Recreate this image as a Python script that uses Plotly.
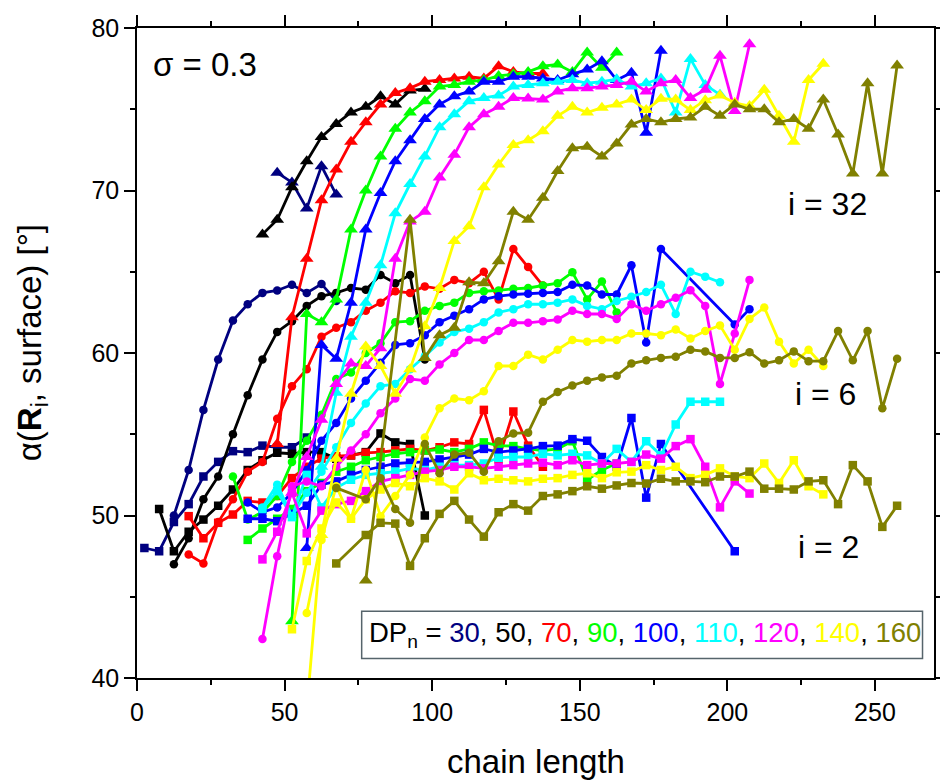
import plotly.graph_objects as go

# ---------------- data (chain length, angle in degrees) ----------------
# DP_n = 30
dp30_i2 = [(2.5, 48.0), (7.5, 47.8), (12.5, 49.6), (17.5, 50.7), (22.5, 52.4), (27.5, 53.3), (32.5, 53.96),
           (37.5, 53.9), (42.5, 54.3), (47.5, 54.2), (52.5, 54.2), (57.5, 54.8), (62.5, 53.8), (67.5, 53.5)]
dp30_i6 = [(12.5, 50.0), (17.5, 52.8), (22.5, 56.5), (27.5, 59.6), (32.5, 62.0), (37.5, 63.0), (42.5, 63.7),
           (47.5, 63.85), (52.5, 64.2), (57.5, 63.7), (62.5, 64.25), (67.5, 63.2)]
dp30_i32 = [(47.5, 71.1), (52.5, 70.5), (57.5, 68.9), (62.5, 71.5), (67.5, 69.75)]

# DP_n = 50
dp50_i2 = [(7.5, 50.4), (12.5, 47.8), (17.5, 49.0), (22.5, 49.75), (27.5, 50.6), (32.5, 51.6), (37.5, 52.8),
           (42.5, 53.4), (47.5, 53.86), (52.5, 53.8), (57.5, 53.9), (62.5, 53.9), (67.5, 53.5), (72.5, 53.7),
           (77.5, 53.9), (82.5, 55.05), (87.5, 54.5), (92.5, 54.4), (97.5, 50.0)]
dp50_i6 = [(12.5, 47.0), (17.5, 48.6), (22.5, 51.0), (27.5, 52.4), (32.5, 55.0), (37.5, 57.4), (42.5, 59.6),
           (47.5, 61.3), (52.5, 61.96), (57.5, 62.9), (62.5, 63.5), (67.5, 63.7), (72.5, 64.0), (77.5, 63.9),
           (82.5, 64.8), (87.5, 64.3), (92.5, 64.8), (97.5, 59.6)]
dp50_i32 = [(42.5, 67.3), (47.5, 68.2), (52.5, 70.2), (57.5, 71.8), (62.5, 73.3), (67.5, 74.1), (72.5, 74.8),
            (77.5, 75.15), (82.5, 75.8), (87.5, 75.3), (92.5, 76.15), (97.5, 76.26)]

# DP_n = 70
dp70_i2 = [(17.5, 49.96), (22.5, 48.6), (27.5, 49.55), (32.5, 50.06), (37.5, 50.9), (42.5, 50.8), (47.5, 51.2),
           (52.5, 52.3), (57.5, 53.0), (62.5, 53.5), (67.5, 53.65), (72.5, 53.7), (77.5, 53.86), (82.5, 53.9),
           (87.5, 54.0), (92.5, 54.1), (97.5, 54.0), (102.5, 54.2), (107.5, 54.5), (112.5, 54.4), (117.5, 56.5),
           (122.5, 53.45), (127.5, 56.4), (132.5, 54.3), (137.5, 53.0)]
dp70_i6 = [(17.5, 47.6), (22.5, 47.05), (27.5, 49.6), (32.5, 51.0), (37.5, 52.7), (42.5, 53.3), (47.5, 55.95),
           (52.5, 57.96), (57.5, 59.0), (62.5, 61.0), (67.5, 61.55), (72.5, 61.9), (77.5, 62.6), (82.5, 63.1),
           (87.5, 63.8), (92.5, 63.7), (97.5, 64.1), (102.5, 63.95), (107.5, 64.5), (112.5, 64.3), (117.5, 65.0),
           (122.5, 63.3), (127.5, 66.4), (132.5, 65.3), (137.5, 64.15)]
dp70_i32 = [(47.5, 54.4), (52.5, 62.2), (57.5, 65.8), (62.5, 69.4), (67.5, 71.3), (72.5, 73.0), (77.5, 74.2),
            (82.5, 75.3), (87.5, 76.0), (92.5, 76.3), (97.5, 76.7), (102.5, 76.8), (107.5, 76.9), (112.5, 77.0),
            (117.5, 76.9), (122.5, 77.65), (127.5, 77.3), (132.5, 77.2), (137.5, 77.2)]

# DP_n = 90
dp90_i2 = [(37.5, 48.5), (42.5, 49.2), (47.5, 49.8), (52.5, 50.4), (57.5, 51.5), (62.5, 52.0), (67.5, 52.7),
           (72.5, 53.0), (77.5, 53.4), (82.5, 53.6), (87.5, 53.8), (92.5, 53.9), (97.5, 54.0), (102.5, 54.06),
           (107.5, 53.9), (112.5, 54.1), (117.5, 54.5), (122.5, 54.3), (127.5, 54.27), (132.5, 54.1), (137.5, 54.0),
           (142.5, 54.1), (147.5, 54.57), (152.5, 52.2), (157.5, 52.8), (162.5, 53.2)]
dp90_i6 = [(32.5, 52.4), (37.5, 49.75), (42.5, 50.2), (47.5, 51.2), (52.5, 53.3), (57.5, 54.6), (62.5, 56.2),
           (67.5, 58.4), (72.5, 58.8), (77.5, 60.0), (82.5, 60.6), (87.5, 61.9), (92.5, 61.96), (97.5, 62.6),
           (102.5, 62.9), (107.5, 63.1), (112.5, 63.7), (117.5, 63.8), (122.5, 63.85), (127.5, 63.95), (132.5, 64.0),
           (137.5, 64.15), (142.5, 64.3), (147.5, 64.97), (152.5, 63.3), (157.5, 64.4), (162.5, 62.5)]
dp90_i32 = [(52.5, 43.5), (57.5, 62.4), (62.5, 61.9), (67.5, 63.3), (72.5, 67.6), (77.5, 70.0), (82.5, 72.1),
            (87.5, 73.8), (92.5, 74.8), (97.5, 75.5), (102.5, 76.4), (107.5, 76.5), (112.5, 76.7), (117.5, 76.8),
            (122.5, 77.05), (127.5, 77.15), (132.5, 77.3), (137.5, 77.65), (142.5, 77.75), (147.5, 77.3),
            (152.5, 78.5), (157.5, 77.55), (162.5, 78.5)]

# DP_n = 100
dp100_i2 = [(37.5, 49.8), (42.5, 49.8), (47.5, 49.65), (52.5, 50.1), (57.5, 50.6), (62.5, 51.9), (67.5, 52.1),
            (72.5, 52.5), (77.5, 52.8), (82.5, 53.0), (87.5, 53.2), (92.5, 53.25), (97.5, 53.3), (102.5, 53.45),
            (107.5, 53.6), (112.5, 53.75), (117.5, 54.1), (122.5, 53.9), (127.5, 54.0), (132.5, 54.1),
            (137.5, 54.27), (142.5, 54.3), (147.5, 54.7), (152.5, 54.6), (157.5, 53.6), (162.5, 53.0),
            (167.5, 56.0), (172.5, 51.1), (177.5, 54.4), (202.5, 47.8)]
dp100_i6 = [(37.5, 50.8), (42.5, 50.2), (47.5, 50.5), (52.5, 51.4), (57.5, 52.8), (62.5, 54.6), (67.5, 55.7),
            (72.5, 57.2), (77.5, 58.3), (82.5, 59.4), (87.5, 60.5), (92.5, 60.6), (97.5, 61.1), (102.5, 61.9),
            (107.5, 62.3), (112.5, 62.7), (117.5, 63.3), (122.5, 63.5), (127.5, 63.6), (132.5, 63.65),
            (137.5, 63.7), (142.5, 63.75), (147.5, 64.2), (152.5, 64.15), (157.5, 63.6), (162.5, 63.6),
            (167.5, 65.4), (172.5, 60.65), (177.5, 66.4), (202.5, 61.75), (207.5, 62.7)]
dp100_i32 = [(57.5, 48.0), (62.5, 60.5), (67.5, 59.65), (72.5, 63.1), (77.5, 67.6), (82.5, 69.85), (87.5, 71.8),
             (92.5, 73.1), (97.5, 74.4), (102.5, 75.3), (107.5, 75.8), (112.5, 76.1), (117.5, 76.7), (122.5, 76.7),
             (127.5, 77.0), (132.5, 77.0), (137.5, 76.9), (142.5, 76.8), (147.5, 77.15), (152.5, 77.45),
             (157.5, 77.96), (162.5, 76.8), (167.5, 77.25), (172.5, 73.55), (177.5, 78.6)]

# DP_n = 110
dp110_i2 = [(42.5, 50.4), (47.5, 51.5), (52.5, 49.9), (57.5, 52.5), (62.5, 50.5), (67.5, 51.7), (72.5, 52.2),
            (77.5, 52.5), (82.5, 52.6), (87.5, 52.7), (92.5, 52.9), (97.5, 52.8), (102.5, 53.0), (107.5, 53.1),
            (112.5, 53.1), (117.5, 53.2), (122.5, 53.55), (127.5, 53.6), (132.5, 53.6), (137.5, 53.8),
            (142.5, 53.7), (147.5, 53.8), (152.5, 53.7), (157.5, 53.2), (162.5, 54.1), (167.5, 53.3),
            (172.5, 54.57), (177.5, 53.7), (182.5, 55.6), (187.5, 57.0), (192.5, 57.0), (197.5, 57.0)]
dp110_i6 = [(42.5, 50.5), (47.5, 51.9), (52.5, 49.96), (57.5, 51.4), (62.5, 52.7), (67.5, 54.2), (72.5, 55.7),
            (77.5, 56.9), (82.5, 57.96), (87.5, 58.1), (92.5, 59.0), (97.5, 59.8), (102.5, 60.65), (107.5, 61.3),
            (112.5, 61.5), (117.5, 61.9), (122.5, 62.5), (127.5, 62.7), (132.5, 63.0), (137.5, 63.0),
            (142.5, 63.1), (147.5, 63.3), (152.5, 62.9), (157.5, 62.7), (162.5, 63.2), (167.5, 63.46),
            (172.5, 63.75), (177.5, 64.2), (182.5, 62.4), (187.5, 65.0), (192.5, 64.7), (197.5, 64.35)]
dp110_i32 = [(62.5, 53.0), (67.5, 57.55), (72.5, 61.0), (77.5, 63.1), (82.5, 65.4), (87.5, 68.6), (92.5, 70.4),
             (97.5, 72.1), (102.5, 73.9), (107.5, 74.7), (112.5, 75.5), (117.5, 75.7), (122.5, 75.85),
             (127.5, 76.4), (132.5, 76.5), (137.5, 76.6), (142.5, 76.7), (147.5, 76.8), (152.5, 76.6),
             (157.5, 76.7), (162.5, 76.85), (167.5, 76.4), (172.5, 76.6), (177.5, 76.9), (182.5, 74.8),
             (187.5, 78.1), (192.5, 76.5), (197.5, 75.9)]

# DP_n = 120
dp120_i2 = [(42.5, 47.3), (47.5, 49.0), (52.5, 51.4), (57.5, 48.9), (62.5, 50.3), (67.5, 50.7), (72.5, 50.9),
            (77.5, 51.5), (82.5, 52.1), (87.5, 52.3), (92.5, 52.5), (97.5, 52.7), (102.5, 52.8), (107.5, 53.0),
            (112.5, 53.0), (117.5, 52.9), (122.5, 53.0), (127.5, 53.1), (132.5, 53.2), (137.5, 53.25),
            (142.5, 53.1), (147.5, 53.4), (152.5, 53.1), (157.5, 53.2), (162.5, 53.2), (167.5, 53.3),
            (172.5, 53.75), (177.5, 53.5), (182.5, 54.27), (187.5, 54.7), (192.5, 53.0), (197.5, 50.5),
            (202.5, 52.1), (207.5, 51.35)]
dp120_i6 = [(42.5, 42.4), (47.5, 47.5), (52.5, 51.8), (57.5, 52.1), (62.5, 51.8), (67.5, 53.0), (72.5, 54.0),
            (77.5, 55.0), (82.5, 56.3), (87.5, 57.2), (92.5, 58.4), (97.5, 58.3), (102.5, 59.3), (107.5, 60.0),
            (112.5, 60.8), (117.5, 60.8), (122.5, 61.35), (127.5, 61.86), (132.5, 61.86), (137.5, 61.96),
            (142.5, 62.06), (147.5, 62.6), (152.5, 62.4), (157.5, 62.4), (162.5, 62.1), (167.5, 63.0),
            (172.5, 62.6), (177.5, 63.0), (182.5, 63.4), (187.5, 63.86), (192.5, 62.9), (197.5, 58.1),
            (202.5, 61.2), (207.5, 64.5)]
dp120_i32 = [(52.5, 51.4), (57.5, 53.6), (62.5, 55.9), (67.5, 58.1), (72.5, 59.35), (77.5, 59.2), (82.5, 60.3),
             (87.5, 65.8), (92.5, 68.1), (97.5, 68.7), (102.5, 70.8), (107.5, 72.2), (112.5, 73.9), (117.5, 74.7),
             (122.5, 75.15), (127.5, 75.7), (132.5, 75.66), (137.5, 75.6), (142.5, 76.1), (147.5, 76.3),
             (152.5, 76.3), (157.5, 76.4), (162.5, 76.5), (167.5, 76.7), (172.5, 76.1), (177.5, 76.6),
             (182.5, 76.8), (187.5, 75.7), (192.5, 76.2), (197.5, 78.3), (202.5, 74.9), (207.5, 79.0)]

# DP_n = 140
dp140_i2 = [(52.5, 43.0), (57.5, 47.2), (62.5, 49.2), (67.5, 50.8), (72.5, 49.8), (77.5, 51.0), (82.5, 51.6),
            (87.5, 52.0), (92.5, 51.8), (97.5, 52.3), (102.5, 52.1), (107.5, 51.6), (112.5, 52.6), (117.5, 52.17),
            (122.5, 52.26), (127.5, 52.17), (132.5, 52.1), (137.5, 52.26), (142.5, 52.3), (147.5, 52.5),
            (152.5, 52.6), (157.5, 52.3), (162.5, 52.66), (167.5, 52.7), (172.5, 53.1), (177.5, 52.8),
            (182.5, 53.0), (187.5, 52.3), (192.5, 52.5), (197.5, 52.9), (202.5, 52.4), (207.5, 52.3),
            (212.5, 53.2), (217.5, 52.0), (222.5, 53.4), (227.5, 51.8), (232.5, 51.3)]
dp140_i6 = [(57.5, 44.0), (62.5, 48.5), (67.5, 51.8), (72.5, 49.8), (77.5, 52.8), (82.5, 49.96), (87.5, 51.2),
            (92.5, 52.5), (97.5, 54.8), (102.5, 56.6), (107.5, 57.2), (112.5, 57.1), (117.5, 57.65), (122.5, 59.2),
            (127.5, 59.2), (132.5, 59.9), (137.5, 59.6), (142.5, 60.2), (147.5, 60.8), (152.5, 60.7),
            (157.5, 60.8), (162.5, 60.8), (167.5, 61.2), (172.5, 61.2), (177.5, 61.1), (182.5, 61.45),
            (187.5, 60.9), (192.5, 61.35), (197.5, 61.7), (202.5, 60.2), (207.5, 62.1), (212.5, 62.8),
            (217.5, 60.7), (222.5, 59.35), (227.5, 60.2), (232.5, 59.2)]
dp140_i32 = [(57.5, 38.0), (62.5, 48.8), (67.5, 53.5), (72.5, 57.5), (77.5, 60.4), (82.5, 59.2), (87.5, 57.5),
             (92.5, 59.0), (97.5, 61.65), (102.5, 64.0), (107.5, 66.9), (112.5, 67.8), (117.5, 70.2),
             (122.5, 71.6), (127.5, 72.8), (132.5, 73.1), (137.5, 73.65), (142.5, 74.6), (147.5, 75.15),
             (152.5, 74.8), (157.5, 75.1), (162.5, 75.3), (167.5, 75.6), (172.5, 74.95), (177.5, 75.65),
             (182.5, 75.6), (187.5, 74.95), (192.5, 75.56), (197.5, 75.85), (202.5, 75.4), (207.5, 75.2),
             (212.5, 76.2), (217.5, 74.6), (222.5, 73.0), (227.5, 76.8), (232.5, 77.8)]

# DP_n = 160
dp160_i2 = [(67.5, 47.05), (77.5, 48.8), (82.5, 49.55), (87.5, 49.5), (92.5, 46.9), (97.5, 48.6), (102.5, 50.1),
            (107.5, 50.9), (112.5, 49.75), (117.5, 48.7), (122.5, 50.2), (127.5, 50.7), (132.5, 50.3),
            (137.5, 51.2), (142.5, 51.3), (147.5, 51.5), (152.5, 51.8), (157.5, 51.65), (162.5, 51.85),
            (167.5, 52.0), (172.5, 51.97), (177.5, 52.26), (182.5, 52.1), (187.5, 52.1), (192.5, 52.05),
            (197.5, 52.4), (202.5, 52.4), (207.5, 52.7), (212.5, 51.65), (217.5, 51.65), (222.5, 51.6),
            (227.5, 52.1), (232.5, 52.17), (237.5, 50.7), (242.5, 53.1), (247.5, 52.1), (252.5, 49.3),
            (257.5, 50.6)]
dp160_i6 = [(67.5, 51.7), (77.5, 51.0), (82.5, 52.3), (87.5, 50.4), (92.5, 49.55), (97.5, 54.4), (102.5, 52.6),
            (107.5, 53.75), (112.5, 53.86), (117.5, 52.7), (122.5, 54.57), (127.5, 55.05), (132.5, 55.1),
            (137.5, 57.0), (142.5, 57.6), (147.5, 58.0), (152.5, 58.3), (157.5, 58.5), (162.5, 58.6),
            (167.5, 59.35), (172.5, 59.55), (177.5, 59.7), (182.5, 59.77), (187.5, 60.2), (192.5, 60.1),
            (197.5, 59.7), (202.5, 59.7), (207.5, 60.05), (212.5, 59.35), (217.5, 59.55), (222.5, 60.1),
            (227.5, 59.5), (232.5, 59.5), (237.5, 61.35), (242.5, 59.55), (247.5, 61.35), (252.5, 56.6),
            (257.5, 59.65)]
dp160_i32 = [(77.5, 46.0), (92.5, 68.2), (97.5, 59.7), (102.5, 61.1), (107.5, 61.55), (112.5, 64.35),
             (117.5, 64.3), (122.5, 65.65), (127.5, 68.7), (132.5, 68.2), (137.5, 69.55), (142.5, 71.2),
             (147.5, 72.6), (152.5, 72.7), (157.5, 72.1), (162.5, 72.9), (167.5, 74.06), (172.5, 74.4),
             (177.5, 74.2), (182.5, 74.4), (187.5, 74.5), (192.5, 75.15), (197.5, 74.6), (202.5, 75.3),
             (207.5, 75.0), (212.5, 75.0), (217.5, 74.2), (222.5, 74.4), (227.5, 73.8), (232.5, 75.6),
             (237.5, 73.45), (242.5, 71.05), (247.5, 76.6), (252.5, 71.05), (257.5, 77.7)]

dp_values = [30, 50, 70, 90, 100, 110, 120, 140, 160]
x_ticks = [0, 50, 100, 150, 200, 250]
y_ticks = [40, 50, 60, 70, 80]

# ---------------- styles ----------------
colors = {30: '#000080', 50: '#000000', 70: '#FF0000', 90: '#00FF00', 100: '#0000FF',
          110: '#00FFFF', 120: '#FF00FF', 140: '#FFFF00', 160: '#808000'}
symbols = {2: ('square', 8.5), 6: ('circle', 8.5), 32: ('triangle-up', 12)}

series = [
    (30, 2, dp30_i2), (30, 6, dp30_i6), (30, 32, dp30_i32),
    (50, 2, dp50_i2), (50, 6, dp50_i6), (50, 32, dp50_i32),
    (70, 2, dp70_i2), (70, 6, dp70_i6), (70, 32, dp70_i32),
    (90, 2, dp90_i2), (90, 6, dp90_i6), (90, 32, dp90_i32),
    (100, 2, dp100_i2), (100, 6, dp100_i6), (100, 32, dp100_i32),
    (110, 2, dp110_i2), (110, 6, dp110_i6), (110, 32, dp110_i32),
    (120, 2, dp120_i2), (120, 6, dp120_i6), (120, 32, dp120_i32),
    (140, 2, dp140_i2), (140, 6, dp140_i6), (140, 32, dp140_i32),
    (160, 2, dp160_i2), (160, 6, dp160_i6), (160, 32, dp160_i32),
]

fig = go.Figure()
for dp, i, pts in series:
    sym, size = symbols[i]
    fig.add_trace(go.Scatter(
        x=[p[0] for p in pts], y=[p[1] for p in pts],
        mode='lines+markers',
        line=dict(color=colors[dp], width=2.8),
        marker=dict(symbol=sym, size=size, color=colors[dp], line=dict(width=0)),
        showlegend=False,
        name=f'DPn={dp}, i={i}',
    ))

FONT = 'Liberation Sans, Arial, sans-serif'
axis_common = dict(
    showline=True, linecolor='black', linewidth=1.5, mirror='ticks',
    ticks='outside', ticklen=11, tickwidth=1.5, tickcolor='black',
    showgrid=False, zeroline=False,
    tickfont=dict(family=FONT, size=25, color='black'),
)
fig.update_xaxes(range=[0, 270], tickvals=x_ticks,
                 minor=dict(ticks='outside', ticklen=5, tickwidth=1.5, dtick=25, tick0=0, tickcolor='black'),
                 **axis_common)
fig.update_yaxes(range=[40, 80], tickvals=y_ticks,
                 minor=dict(ticks='outside', ticklen=5, tickwidth=1.5, dtick=5, tick0=0, tickcolor='black'),
                 **axis_common)

# legend-like box with coloured numbers
parts = []
for dp in dp_values:
    parts.append(f'<span style="color:{colors[dp]}">{dp}</span>')
legend_text = 'DP<sub>n</sub> = ' + ', '.join(parts)

annotations = [
    dict(text='σ = 0.3', x=0.0855, y=0.944, xref='paper', yref='paper', showarrow=False,
         font=dict(family=FONT, size=33, color='black'), xanchor='center', yanchor='middle'),
    dict(text='i = 32', x=0.867, y=0.7285, xref='paper', yref='paper', showarrow=False,
         font=dict(family=FONT, size=32, color='black'), xanchor='center', yanchor='middle'),
    dict(text='i = 6', x=0.864, y=0.4362, xref='paper', yref='paper', showarrow=False,
         font=dict(family=FONT, size=32, color='black'), xanchor='center', yanchor='middle'),
    dict(text='i = 2', x=0.868, y=0.2023, xref='paper', yref='paper', showarrow=False,
         font=dict(family=FONT, size=32, color='black'), xanchor='center', yanchor='middle'),
    dict(text=legend_text, x=0.638, y=0.0669, xref='paper', yref='paper', showarrow=False,
         font=dict(family=FONT, size=27.5, color='black'), xanchor='center', yanchor='middle'),
    dict(text='chain length', x=0.5, y=-0.128, xref='paper', yref='paper', showarrow=False,
         font=dict(family=FONT, size=33, color='black'), xanchor='center', yanchor='middle'),
    dict(text='α(<b>R</b><sub>i</sub>, surface) [°]', x=-0.1317, y=0.515, xref='paper', yref='paper',
         showarrow=False, textangle=-90,
         font=dict(family=FONT, size=33, color='black'), xanchor='center', yanchor='middle'),
]

# the page body adds an 8 px offset, so the figure is sized to end at the window edge
fig.update_layout(
    width=940, height=773,
    margin=dict(l=129, r=1, t=20, b=103),
    paper_bgcolor='white', plot_bgcolor='white',
    annotations=annotations,
    shapes=[dict(type='rect', xref='paper', yref='paper', x0=0.2819, x1=0.9856, y0=0.030, y1=0.1028,
                 line=dict(color='#56646b', width=1.5), fillcolor='rgba(0,0,0,0)')],
)

fig.write_html('out.html')
